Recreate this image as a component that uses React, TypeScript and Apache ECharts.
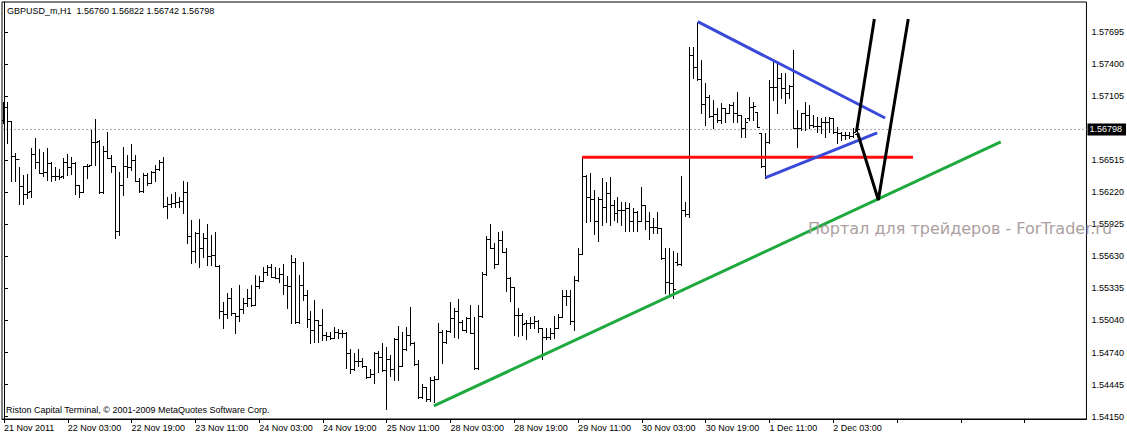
import React, { useEffect, useRef } from "react";
import * as echarts from "echarts";

// ---- data (GBPUSD_m, H1, one bar per hour) ----
const symbolName = "GBPUSD_m";
const timeframe = "H1";
const slotCount = 272; // bars + empty future slots shown on the chart

const tickLabels = [
  "21 Nov 2011", "22 Nov 03:00", "22 Nov 19:00", "23 Nov 11:00", "24 Nov 03:00",
  "24 Nov 19:00", "25 Nov 11:00", "28 Nov 03:00", "28 Nov 19:00", "29 Nov 11:00",
  "30 Nov 03:00", "30 Nov 19:00", "1 Dec 11:00", "2 Dec 03:00",
];

const priceTicks = [
  1.5415, 1.54445, 1.5474, 1.5504, 1.55335, 1.5563, 1.55925, 1.5622, 1.56515,
  1.57105, 1.574, 1.57695,
];

const opens = [
  1.56886, 1.57008, 1.56876, 1.56554, 1.56526, 1.56277, 1.56203, 1.56231, 1.56569, 1.56501,
  1.56397, 1.56409, 1.56486, 1.56369, 1.56369, 1.56372, 1.56496, 1.56455, 1.56486, 1.56286,
  1.56225, 1.56464, 1.56471, 1.5668, 1.56692, 1.56225, 1.566, 1.56538, 1.56464, 1.55862,
  1.56286, 1.56461, 1.56455, 1.56517, 1.56323, 1.56234, 1.56379, 1.56305, 1.56409, 1.56434,
  1.56496, 1.56093, 1.56111, 1.56123, 1.56132, 1.56139, 1.56219, 1.55816, 1.55678, 1.55841,
  1.55703, 1.55795, 1.55632, 1.55641, 1.55542, 1.55127, 1.55094, 1.55242, 1.55103, 1.55081,
  1.5514, 1.55201, 1.55242, 1.5518, 1.55355, 1.55401, 1.55487, 1.55528, 1.55441, 1.55432,
  1.55463, 1.55364, 1.55355, 1.55576, 1.5502, 1.55364, 1.55272, 1.55048, 1.54949, 1.55042,
  1.54996, 1.54903, 1.54897, 1.54873, 1.54934, 1.54919, 1.54919, 1.5474, 1.54587, 1.54666,
  1.54664, 1.54617, 1.54519, 1.54544, 1.54735, 1.54703, 1.54581, 1.54679, 1.54593, 1.54864,
  1.54617, 1.54771, 1.54903, 1.54827, 1.54636, 1.54334, 1.54421, 1.5431, 1.54488, 1.54495,
  1.54934, 1.54842, 1.5494, 1.55063, 1.55125, 1.5502, 1.54949, 1.55063, 1.54919, 1.54602,
  1.55081, 1.55463, 1.55788, 1.55703, 1.55555, 1.55779, 1.55666, 1.55432, 1.55349, 1.55088,
  1.55088, 1.55011, 1.55011, 1.55011, 1.55032, 1.54965, 1.54888, 1.54888, 1.54919, 1.54965,
  1.55072, 1.55266, 1.55266, 1.55032, 1.55408, 1.55647, 1.56369, 1.56173, 1.56155, 1.55954,
  1.56155, 1.56086, 1.56215, 1.56102, 1.56025, 1.56056, 1.56056, 1.56072, 1.55954, 1.5604,
  1.55954, 1.56102, 1.55954, 1.55902, 1.55902, 1.5589, 1.55616, 1.55392, 1.55386, 1.55576,
  1.55555, 1.56056, 1.56019, 1.57485, 1.57377, 1.57261, 1.57033, 1.571, 1.56923, 1.56941,
  1.56886, 1.56994, 1.56953, 1.57024, 1.56947, 1.56932, 1.56809, 1.56904, 1.57003, 1.56959,
  1.56763, 1.56461, 1.56686, 1.57187, 1.57193, 1.5727, 1.57178, 1.57132, 1.57199, 1.56809,
  1.56809, 1.56947, 1.56932, 1.5684, 1.5683, 1.5683, 1.5687, 1.5687, 1.56901, 1.56778,
  1.56769, 1.56747, 1.56747, 1.56738, 1.5676,
];

const highs = [
  1.57054, 1.57049, 1.56876, 1.56579, 1.56455, 1.56379, 1.56388, 1.5663, 1.56717, 1.56618,
  1.56593, 1.5663, 1.56501, 1.56455, 1.56434, 1.56538, 1.56569, 1.56547, 1.56501, 1.56286,
  1.56464, 1.56477, 1.56793, 1.56895, 1.56701, 1.56646, 1.56772, 1.56563, 1.56464, 1.56409,
  1.56639, 1.56563, 1.56662, 1.56563, 1.56348, 1.56394, 1.564, 1.56418, 1.56471, 1.56517,
  1.56542, 1.56178, 1.56203, 1.56225, 1.56178, 1.56323, 1.56317, 1.55964, 1.55856, 1.55973,
  1.55841, 1.55927, 1.55825, 1.55856, 1.55549, 1.5521, 1.55288, 1.55334, 1.55103, 1.55364,
  1.55242, 1.55325, 1.55364, 1.55457, 1.55447, 1.55528, 1.55549, 1.55558, 1.55528, 1.55518,
  1.55558, 1.55447, 1.55638, 1.55616, 1.55457, 1.55576, 1.55318, 1.55127, 1.55226, 1.55042,
  1.5514, 1.54934, 1.54934, 1.54974, 1.54956, 1.54949, 1.54934, 1.54771, 1.54735, 1.54771,
  1.54688, 1.54617, 1.54587, 1.54749, 1.54758, 1.54832, 1.54795, 1.54719, 1.54873, 1.54986,
  1.54934, 1.5498, 1.55164, 1.54842, 1.54673, 1.54451, 1.54427, 1.54513, 1.54525, 1.55011,
  1.54949, 1.54952, 1.55205, 1.5515, 1.55235, 1.55042, 1.55072, 1.5518, 1.55072, 1.5518,
  1.55481, 1.55819, 1.55924, 1.55749, 1.55856, 1.55862, 1.55703, 1.55441, 1.55349, 1.5515,
  1.55103, 1.55042, 1.55072, 1.55081, 1.55042, 1.54971, 1.54965, 1.54965, 1.55081, 1.55094,
  1.55318, 1.55318, 1.55318, 1.5545, 1.55703, 1.56542, 1.56379, 1.56394, 1.5624, 1.56178,
  1.56348, 1.56317, 1.56363, 1.56148, 1.56178, 1.56132, 1.56132, 1.56118, 1.56072, 1.56049,
  1.56265, 1.56102, 1.5604, 1.55979, 1.5604, 1.55893, 1.55708, 1.55708, 1.55678, 1.55662,
  1.56369, 1.56132, 1.57561, 1.57561, 1.57792, 1.57439, 1.57224, 1.57116, 1.5707, 1.56994,
  1.5704, 1.56998, 1.57033, 1.57054, 1.57147, 1.56932, 1.56901, 1.571, 1.57054, 1.56962,
  1.56763, 1.56763, 1.57254, 1.57423, 1.57408, 1.57316, 1.57322, 1.57208, 1.57531, 1.56978,
  1.56947, 1.57054, 1.57024, 1.56932, 1.56916, 1.56901, 1.56916, 1.56916, 1.56901, 1.56824,
  1.56778, 1.56778, 1.56778, 1.56809, 1.56822,
];

const lows = [
  1.56855, 1.56671, 1.56326, 1.56326, 1.56108, 1.56108, 1.56164, 1.56178, 1.56446, 1.56394,
  1.56369, 1.56332, 1.56326, 1.56332, 1.56342, 1.56354, 1.56379, 1.56385, 1.56203, 1.56178,
  1.56225, 1.56348, 1.56471, 1.56471, 1.5621, 1.5621, 1.56538, 1.56409, 1.558, 1.55825,
  1.56194, 1.56363, 1.56425, 1.56323, 1.56219, 1.56225, 1.56286, 1.563, 1.56326, 1.56425,
  1.56086, 1.55979, 1.56081, 1.56086, 1.56081, 1.56025, 1.55754, 1.55564, 1.55579, 1.55528,
  1.55625, 1.55549, 1.55549, 1.5554, 1.55057, 1.54965, 1.55057, 1.55088, 1.54925, 1.55035,
  1.55103, 1.55171, 1.55171, 1.5518, 1.55334, 1.55398, 1.55457, 1.55435, 1.55426, 1.55395,
  1.55281, 1.55148, 1.55017, 1.55011, 1.55014, 1.55226, 1.5498, 1.54832, 1.54842, 1.54842,
  1.54857, 1.54857, 1.54864, 1.54873, 1.54873, 1.54888, 1.54596, 1.54556, 1.54581, 1.54617,
  1.54611, 1.54504, 1.54513, 1.54458, 1.54565, 1.54574, 1.54218, 1.54525, 1.54488, 1.54488,
  1.54617, 1.54765, 1.54811, 1.54627, 1.5432, 1.5432, 1.54298, 1.54298, 1.54288, 1.54495,
  1.54642, 1.5483, 1.54934, 1.54888, 1.54878, 1.54949, 1.54934, 1.54919, 1.5459, 1.5459,
  1.55072, 1.55457, 1.55703, 1.55518, 1.55555, 1.55666, 1.55309, 1.55217, 1.54903, 1.54897,
  1.54903, 1.54866, 1.54965, 1.54971, 1.54934, 1.54682, 1.54866, 1.54866, 1.54878, 1.54965,
  1.55072, 1.5518, 1.55002, 1.54949, 1.55401, 1.55647, 1.55945, 1.55954, 1.55832, 1.5577,
  1.55918, 1.55945, 1.55918, 1.55966, 1.55945, 1.55918, 1.55862, 1.55862, 1.55862, 1.55862,
  1.55954, 1.55878, 1.55791, 1.55846, 1.55846, 1.55601, 1.55288, 1.55263, 1.55247, 1.55546,
  1.55546, 1.55998, 1.55994, 1.5727, 1.57254, 1.56947, 1.5684, 1.56916, 1.56809, 1.5687,
  1.56855, 1.5687, 1.56947, 1.5687, 1.5687, 1.56726, 1.56732, 1.56886, 1.56886, 1.56824,
  1.56455, 1.56354, 1.56671, 1.5707, 1.56947, 1.57086, 1.5704, 1.57086, 1.56809, 1.56639,
  1.56793, 1.56793, 1.56809, 1.56824, 1.56778, 1.56763, 1.56732, 1.56778, 1.56763, 1.56671,
  1.56701, 1.56708, 1.56717, 1.56726, 1.56742,
];

const closes = [
  1.57008, 1.56876, 1.56554, 1.56526, 1.5628, 1.56203, 1.56225, 1.56569, 1.56501, 1.56394,
  1.56409, 1.56486, 1.56369, 1.56369, 1.56363, 1.56496, 1.56455, 1.56486, 1.56286, 1.56225,
  1.56461, 1.56464, 1.5668, 1.56686, 1.56225, 1.566, 1.56538, 1.56464, 1.55862, 1.56286,
  1.56461, 1.56455, 1.56517, 1.56323, 1.56234, 1.56379, 1.56302, 1.56409, 1.56434, 1.56496,
  1.56093, 1.56111, 1.56118, 1.56132, 1.56139, 1.56219, 1.55816, 1.55678, 1.55841, 1.55703,
  1.55795, 1.55632, 1.55641, 1.55542, 1.55127, 1.55094, 1.55242, 1.55103, 1.55081, 1.5514,
  1.55201, 1.55242, 1.5518, 1.55355, 1.55401, 1.55487, 1.55528, 1.55441, 1.55432, 1.55463,
  1.55364, 1.55355, 1.55576, 1.5502, 1.55364, 1.55272, 1.55048, 1.54949, 1.55042, 1.54996,
  1.54903, 1.54897, 1.54873, 1.54934, 1.54919, 1.54919, 1.5474, 1.54587, 1.54666, 1.54664,
  1.54617, 1.54519, 1.54544, 1.54735, 1.54703, 1.54581, 1.54679, 1.54593, 1.54864, 1.54617,
  1.54771, 1.54903, 1.54827, 1.54636, 1.54334, 1.54421, 1.5431, 1.54488, 1.54495, 1.54934,
  1.54842, 1.5494, 1.55063, 1.55125, 1.5502, 1.54949, 1.55063, 1.54919, 1.54602, 1.55081,
  1.55463, 1.55788, 1.55703, 1.55555, 1.55779, 1.55666, 1.55432, 1.55349, 1.55088, 1.55088,
  1.55002, 1.55011, 1.55011, 1.55032, 1.54965, 1.54888, 1.54888, 1.54919, 1.54965, 1.55072,
  1.55266, 1.55266, 1.55032, 1.55408, 1.55647, 1.56369, 1.56173, 1.56155, 1.55954, 1.56155,
  1.56086, 1.56215, 1.56102, 1.56025, 1.56056, 1.56056, 1.56072, 1.55954, 1.5604, 1.55954,
  1.56102, 1.55954, 1.55902, 1.55902, 1.5589, 1.55616, 1.55392, 1.55386, 1.55325, 1.55555,
  1.56056, 1.56019, 1.57485, 1.57377, 1.57261, 1.57033, 1.571, 1.56923, 1.56941, 1.56886,
  1.56994, 1.56953, 1.57024, 1.56947, 1.56932, 1.56809, 1.5687, 1.57003, 1.57015, 1.56824,
  1.56461, 1.56686, 1.57187, 1.57193, 1.5727, 1.57178, 1.57132, 1.57199, 1.56809, 1.56809,
  1.56947, 1.56932, 1.5684, 1.5683, 1.5683, 1.5687, 1.5687, 1.56901, 1.56778, 1.56769,
  1.56747, 1.56747, 1.56738, 1.56778, 1.56798,
];

// drawn objects: [bar index, price]
const redLevel = [[145, 1.56542], [228, 1.56542]];
const blueUpper = [[174, 1.57792], [221, 1.56904]];
const blueLower = [[191, 1.56354], [219, 1.56766]];
const greenTrend = [[107.8, 1.54249], [250, 1.56683]];
const forecastUp = [[213.8, 1.56775], [218.3, 1.57817]];
const forecastV = [[214.1, 1.56766], [219.3, 1.56148], [226.8, 1.57817]];

const FONT = "'Liberation Sans', Arial, sans-serif";

export default function App() {
  const ref = useRef<HTMLDivElement>(null);

  useEffect(() => {
    if (!ref.current) return;
    const chart = echarts.init(ref.current, null, { renderer: "svg" });
    const n = closes.length;
    const last = n - 1;
    const lastClose = closes[last];
    const categories = Array.from({ length: slotCount }, (_, i) => String(i));
    const bars = opens.map((o, i) => [i, o, highs[i], lows[i], closes[i]]);

    const renderBar = (_params: any, api: any) => {
      const i = api.value(0);
      const o = api.coord([i, api.value(1)]);
      const h = api.coord([i, api.value(2)]);
      const l = api.coord([i, api.value(3)]);
      const c = api.coord([i, api.value(4)]);
      const x = Math.floor(h[0]) + 0.5;
      const st = { stroke: "#000", lineWidth: 1 };
      const yo = Math.round(o[1]) + 0.5;
      const yc = Math.round(c[1]) + 0.5;
      return {
        type: "group",
        children: [
          { type: "line", shape: { x1: x, y1: Math.round(h[1]), x2: x, y2: Math.round(l[1]) + 1 }, style: st },
          { type: "line", shape: { x1: x - 2.5, y1: yo, x2: x, y2: yo }, style: st },
          { type: "line", shape: { x1: x, y1: yc, x2: x + 2.5, y2: yc }, style: st },
        ],
      };
    };

    const trend = (data: number[][], color: string, z = 5) => ({
      type: "line",
      xAxisIndex: 1,
      data,
      showSymbol: false,
      symbol: "none",
      silent: true,
      z,
      lineStyle: { color, width: 3, cap: "butt" },
    });

    const fmt = (v: number) => v.toFixed(5);

    chart.setOption({
      animation: false,
      backgroundColor: "#fff",
      grid: { left: 2, top: 2, right: 37, bottom: 17, show: true, borderColor: "#000", borderWidth: 1 },
      xAxis: [
        {
          type: "category",
          data: categories,
          boundaryGap: true,
          axisLine: { show: true, lineStyle: { color: "#000", width: 1 } },
          axisTick: { show: true, interval: 15, alignWithLabel: true, length: 4, lineStyle: { color: "#000" } },
          axisLabel: {
            interval: 15,
            align: "left",
            margin: 4,
            color: "#000",
            fontSize: 9,
            fontFamily: FONT,
            formatter: (_v: string, idx: number) => (idx % 16 === 0 && tickLabels[idx / 16]) || "",
          },
          splitLine: { show: false },
        },
        { type: "value", min: -0.5, max: slotCount - 0.5, show: false },
      ],
      yAxis: {
        type: "value",
        position: "right",
        min: 1.54129,
        max: 1.57973,
        splitLine: { show: false },
        axisLine: { show: true, lineStyle: { color: "#000", width: 1 } },
        axisTick: { show: true, length: 4, customValues: priceTicks, lineStyle: { color: "#000" } },
        axisLabel: {
          customValues: priceTicks,
          formatter: fmt,
          margin: 5,
          color: "#000",
          fontSize: 9,
          fontFamily: FONT,
        },
      },
      series: [
        {
          type: "line",
          xAxisIndex: 1,
          data: [[-0.5, lastClose], [slotCount - 0.5, lastClose]],
          showSymbol: false,
          symbol: "none",
          silent: true,
          z: 1,
          lineStyle: { color: "#b0a4b0", type: [2, 2], width: 1 },
          endLabel: {
            show: true,
            distance: 1,
            formatter: () => fmt(lastClose),
            backgroundColor: "#000",
            color: "#fff",
            padding: [2, 4, 1, 2],
            fontSize: 9,
            fontFamily: FONT,
          },
        },
        {
          type: "custom",
          renderItem: renderBar,
          data: bars,
          encode: { x: 0, y: [1, 2, 3, 4] },
          clip: true,
          silent: true,
          z: 3,
        },
        trend(redLevel, "#ff1010"),
        trend(blueUpper, "#3a4ad8"),
        trend(blueLower, "#3a4ad8"),
        trend(greenTrend, "#1faa40"),
        trend(forecastUp, "#000"),
        trend(forecastV, "#000"),
      ],
      graphic: [
        {
          type: "text",
          left: 7,
          top: 6,
          style: {
            text: `${symbolName},${timeframe}\u00a0 ${fmt(opens[last])} ${fmt(highs[last])} ${fmt(lows[last])} ${fmt(closes[last])}`,
            fill: "#000",
            font: `9px ${FONT}`,
          },
        },
        {
          type: "text",
          left: 6,
          top: 405,
          style: {
            text: "Riston Capital Terminal, © 2001-2009 MetaQuotes Software Corp.",
            fill: "#000",
            font: `9px ${FONT}`,
          },
        },
        {
          type: "text",
          left: 808,
          top: 220,
          z: 10,
          style: {
            text: "Портал для трейдеров - ForTrader.ru",
            fill: "#ab9f9f",
            font: `16px 'DejaVu Sans', sans-serif`,
          },
        },
      ],
    });
    return () => chart.dispose();
  }, []);

  return (
    <div
      ref={ref}
      style={{ position: "fixed", left: 0, top: 0, width: 1127, height: 436, background: "#fff" }}
    />
  );
}
